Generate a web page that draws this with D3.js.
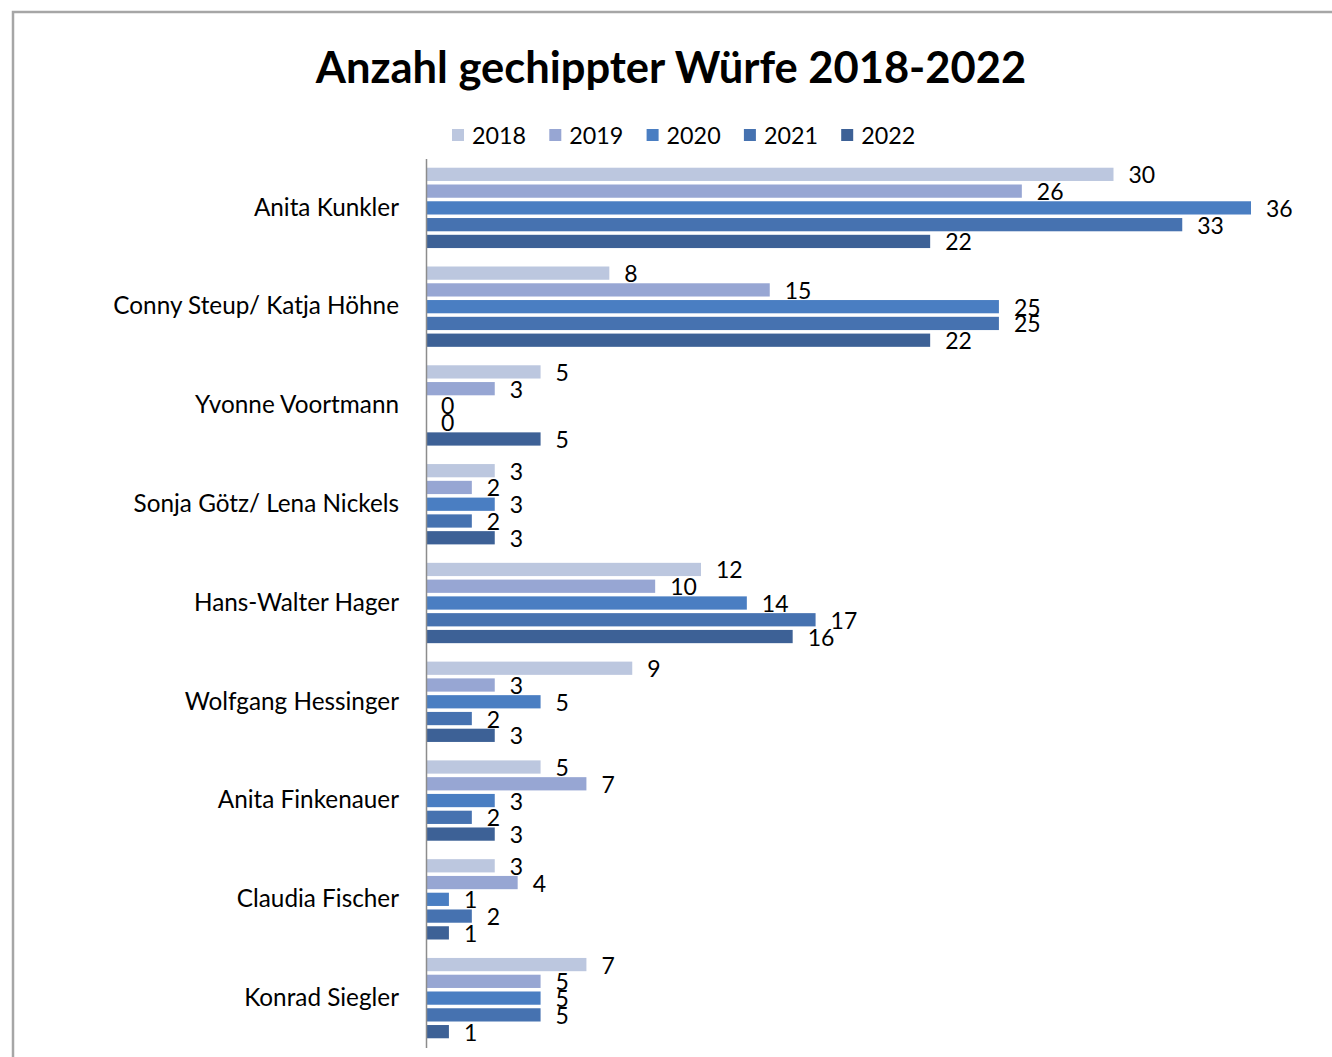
<!DOCTYPE html>
<html><head><meta charset="utf-8">
<script src="https://cdn.jsdelivr.net/npm/d3@7"></script>
<style>
html,body{margin:0;padding:0;background:#fff;}
svg{display:block;font-family:Lato,"Open Sans",sans-serif;}
</style></head><body>
<svg id="chart" width="1332" height="1057"></svg>
<script>
const categories = ["Anita Kunkler","Conny Steup/ Katja Höhne","Yvonne Voortmann","Sonja Götz/ Lena Nickels","Hans-Walter Hager","Wolfgang Hessinger","Anita Finkenauer","Claudia Fischer","Konrad Siegler"];
const years = ["2018","2019","2020","2021","2022"];
const v2018 = [30, 8, 5, 3, 12, 9, 5, 3, 7];
const v2019 = [26, 15, 3, 2, 10, 3, 7, 4, 5];
const v2020 = [36, 25, 0, 3, 14, 5, 3, 1, 5];
const v2021 = [33, 25, 0, 2, 17, 2, 2, 2, 5];
const v2022 = [22, 22, 5, 3, 16, 3, 3, 1, 1];
const colors = ["#bcc7df","#97a6d3","#4a7ec2","#4672b0","#3d6196"];

const series = [v2018, v2019, v2020, v2021, v2022];
const svg = d3.select("#chart");

// frame
svg.append("path").attr("d","M13,1057 V12 H1332").attr("fill","none").attr("stroke","#a6a6a6").attr("stroke-width",2.5);

// title
svg.append("text").attr("x",671).attr("y",83).attr("text-anchor","middle")
  .attr("font-size",43.5).attr("font-weight","bold").attr("fill","#000")
  .text("Anzahl gechippter Würfe 2018-2022");

const x0 = 426;
const x = d3.scaleLinear().domain([0,36]).range([x0,1251]);
const y = d3.scaleBand().domain(categories).range([158.5,1047.5]).paddingInner(0).paddingOuter(0);
const yi = d3.scaleBand().domain(years).range([0,y.bandwidth()]).paddingInner(0.21).paddingOuter(0.55);

// legend
const leg = svg.append("g");
years.forEach((yr,i)=>{
  const lx = 452 + i*97.3;
  leg.append("rect").attr("x",lx).attr("y",129).attr("width",12).attr("height",12).attr("fill",colors[i]);
  leg.append("text").attr("x",lx+20).attr("y",143.5).attr("font-size",23.3).attr("fill","#000").text(yr);
});

// bars
const g = svg.append("g");
categories.forEach((c,ci)=>{
  years.forEach((yr,si)=>{
    const val = series[si][ci];
    const by = y(c)+yi(yr);
    g.append("rect").attr("x",x(0)).attr("y",by).attr("width",x(val)-x(0)).attr("height",yi.bandwidth()).attr("fill",colors[si]);
    g.append("text").attr("x",x(val)+15).attr("y",by+yi.bandwidth()/2+9)
      .attr("font-size",23).attr("fill","#000").text(val);
  });
});

// axis
const ax = svg.append("g").attr("transform",`translate(${x0},0)`).call(d3.axisLeft(y).tickSize(0).tickPadding(27));
ax.select(".domain").attr("stroke","#8c8c8c").attr("stroke-width",1.5);
ax.selectAll("text").attr("font-size",24.3).attr("fill","#000").attr("font-family","Lato,'Open Sans',sans-serif");
</script>
</body></html>
